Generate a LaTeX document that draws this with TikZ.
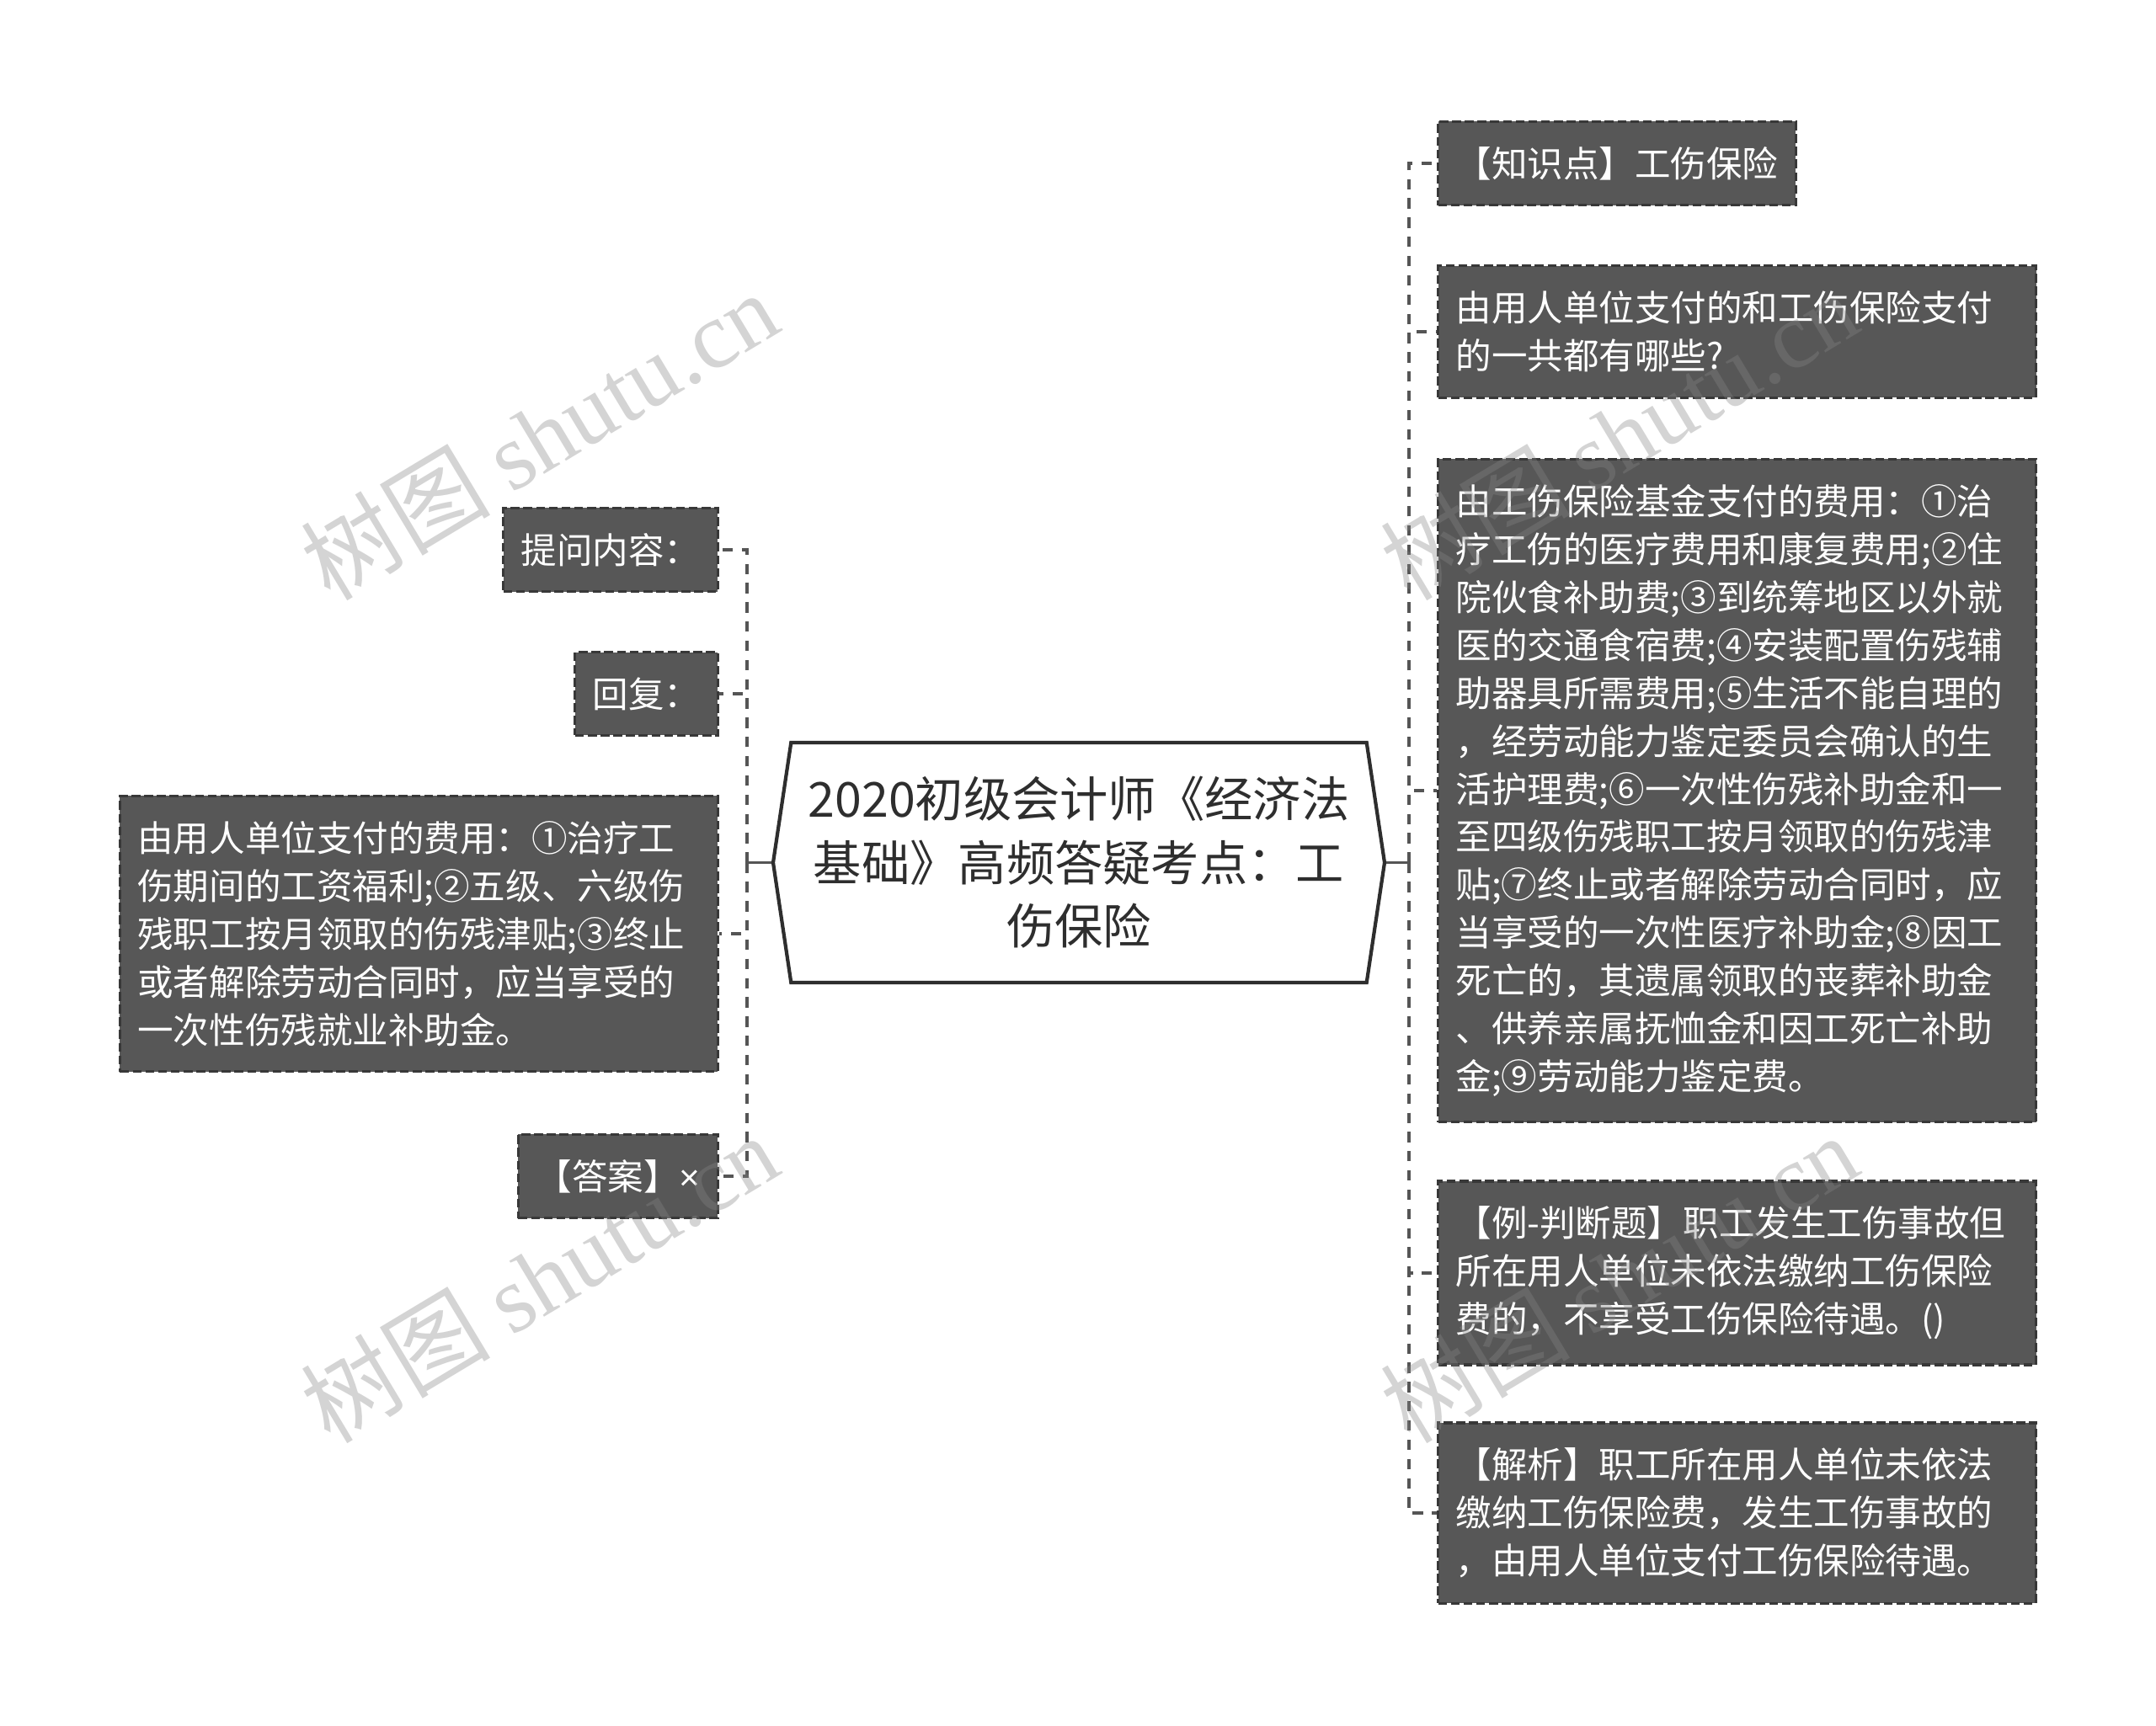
\documentclass[tikz,border=0pt]{standalone}
\usepackage{fontspec}
\setmainfont{Noto Sans CJK SC}
\newfontfamily\wmlatin{Liberation Serif}
\newfontfamily\sanslatin{Liberation Sans}
\usepackage{tikz}
\usetikzlibrary{shapes.symbols,positioning}

\definecolor{boxfill}{HTML}{575757}
\definecolor{boxline}{HTML}{383838}
\definecolor{twiggray}{HTML}{555555}
\definecolor{hubline}{HTML}{2E2E2E}
\definecolor{wmgray}{HTML}{858585}

\begin{document}
\begin{tikzpicture}[%
leaf/.style={draw=boxline, fill=boxfill, line width=0.9pt,
  dash pattern=on 3pt off 1.3pt, text=white,
  font=\fontsize{12.1}{16.2}\selectfont,
  inner xsep=0.21cm, inner ysep=8.5pt},
wide/.style={leaf, text width=6.68cm, align=left},
twig/.style={twiggray, line width=1.1pt, dash pattern=on 3.5pt off 3pt},
stem/.style={twiggray, line width=1.1pt},
wmark/.style={rotate=31, text=wmgray, text opacity=0.35,
  font=\fontsize{32}{32}\selectfont}
]
\fill[white] (0,0) rectangle (25.6,-20.49);
\useasboundingbox (0,0) rectangle (25.6,-20.49);

\node[shape=signal, signal to=west and east, signal pointer angle=163,
  draw=hubline, line width=1.2pt, fill=white, text=hubline,
  minimum width=7.26cm, minimum height=2.85cm, align=center,
  font=\fontsize{16.3}{21.5}\selectfont] (hub) at (12.81,-10.245)
  {2020初级会计师《经济法\\基础》高频答疑考点：工\\伤保险};

% right side
\node[leaf, anchor=west] (r1) at (17.06,-1.94) {【知识点】工伤保险};
\node[wide, anchor=west] (r2) at (17.06,-3.94)
  {由用人单位支付的和工伤保险支付\\的一共都有哪些?};
\node[wide, anchor=west] (r3) at (17.06,-9.39)
  {由工伤保险基金支付的费用：①治\\
   疗工伤的医疗费用和康复费用;②住\\
   院伙食补助费;③到统筹地区以外就\\
   医的交通食宿费;④安装配置伤残辅\\
   助器具所需费用;⑤生活不能自理的\\
   ，经劳动能力鉴定委员会确认的生\\
   活护理费;⑥一次性伤残补助金和一\\
   至四级伤残职工按月领取的伤残津\\
   贴;⑦终止或者解除劳动合同时，应\\
   当享受的一次性医疗补助金;⑧因工\\
   死亡的，其遗属领取的丧葬补助金\\
   、供养亲属抚恤金和因工死亡补助\\
   金;⑨劳动能力鉴定费。};
\node[wide, anchor=west] (r4) at (17.06,-15.12)
  {【例-判断题】职工发生工伤事故但\\所在用人单位未依法缴纳工伤保险\\费的，不享受工伤保险待遇。()};
\node[wide, anchor=west] (r5) at (17.06,-17.97)
  {【解析】职工所在用人单位未依法\\缴纳工伤保险费，发生工伤事故的\\，由用人单位支付工伤保险待遇。};

% left side
\node[leaf, anchor=east] (l1) at (8.54,-6.53) {提问内容：};
\node[leaf, anchor=east] (l2) at (8.54,-8.24) {回复：};
\node[wide, anchor=east] (l3) at (8.54,-11.09)
  {由用人单位支付的费用：①治疗工\\伤期间的工资福利;②五级、六级伤\\残职工按月领取的伤残津贴;③终止\\或者解除劳动合同时，应当享受的\\一次性伤残就业补助金。};
\node[leaf, anchor=east] (l4) at (8.54,-13.97) {【答案】{\sanslatin ×}};

\coordinate (rj) at (16.73,-10.245);
\coordinate (lj) at (8.87,-10.245);

% solid: hub to trunks
\draw[stem] (hub.east) -- (rj);
\draw[stem] (hub.west) -- (lj);

% dashed: trunks to leaves
\foreach \n in {r1,r2,r3,r4,r5}
  \draw[twig] (rj) |- (\n.west);
\foreach \n in {l1,l2,l3,l4}
  \draw[twig] (lj) |- (\n.east);

% watermarks
\node[wmark] (w1) at (6.40,-5.17) {树图 {\wmlatin shutu.cn}};
\node[wmark] (w2) at (6.40,-15.18) {树图 {\wmlatin shutu.cn}};
\node[wmark] (w3) at (19.22,-5.17) {树图 {\wmlatin shutu.cn}};
\node[wmark] (w4) at (19.22,-15.18) {树图 {\wmlatin shutu.cn}};
\end{tikzpicture}
\end{document}
